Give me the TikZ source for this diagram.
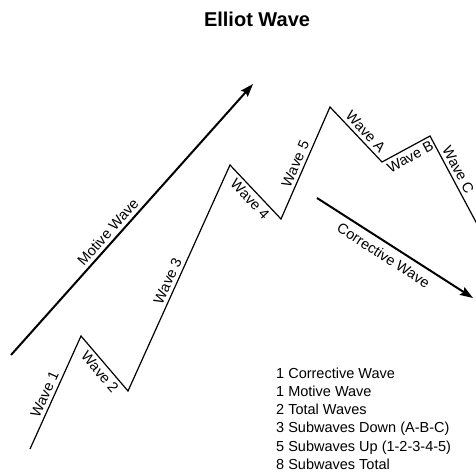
\documentclass[tikz,border=0pt]{standalone}
\usepackage{fontspec}
\setmainfont{Liberation Sans}
\usetikzlibrary{arrows.meta}

\begin{document}
\begin{tikzpicture}[
    x=1pt, y=-1pt,
    wave/.style={line width=1.2pt},
    trend/.style={line width=2pt, -{Stealth[length=13pt, width=9pt, inset=2pt]}},
    lbl/.style={font=\fontsize{14.5}{17}\selectfont, sloped},
    title/.style={font=\bfseries\fontsize{20}{24}\selectfont},
    legend/.style={font=\fontsize{14.5}{18.2}\selectfont, align=left, inner sep=0pt}
]
    \useasboundingbox (0,0) rectangle (476,471);
    \clip (0,0) rectangle (476,471);

    % turning points of the wave
    \coordinate (w0) at (30,449);
    \coordinate (w1) at (81,336);
    \coordinate (w2) at (128,391);
    \coordinate (w3) at (230,165);
    \coordinate (w4) at (281,219);
    \coordinate (w5) at (330,107);
    \coordinate (w6) at (382,162);
    \coordinate (w7) at (430,136);
    \coordinate (w8) at (500,267);

    % trend arrows
    \coordinate (mtail) at (11,355);
    \coordinate (mtip) at (253,84);
    \coordinate (ctail) at (317,198);
    \coordinate (ctip) at (473,298);

    \node[title, anchor=base] (head) at (257,27) {Elliot Wave};

    \draw[wave] (w0) -- node[lbl, pos=0.45, above] (l1) {Wave 1} (w1)
        -- node[lbl, pos=0.55, below] (l2) {Wave 2} (w2)
        -- node[lbl, pos=0.47, above] (l3) {Wave 3} (w3)
        -- node[lbl, pos=0.52, below] (l4) {Wave 4} (w4)
        -- node[lbl, pos=0.46, above] (l5) {Wave 5} (w5)
        -- node[lbl, pos=0.56, above] (la) {Wave A} (w6)
        -- node[lbl, pos=0.5, below] (lb) {Wave B} (w7)
        -- node[lbl, pos=0.29, above] (lc) {Wave C} (w8);

    \draw[trend] (mtail) -- node[lbl, pos=0.43, above] (motive) {Motive Wave} (mtip);
    \draw[trend] (ctail) -- node[lbl, pos=0.47, below, inner sep=6pt] (corrective) {Corrective Wave} (ctip);

    \node[legend, anchor=north west] (summary) at (276,367.5) {1 Corrective Wave\\
        1 Motive Wave\\
        2 Total Waves\\
        3 Subwaves Down (A-B-C)\\
        5 Subwaves Up (1-2-3-4-5)\\
        8 Subwaves Total};
\end{tikzpicture}
\end{document}
